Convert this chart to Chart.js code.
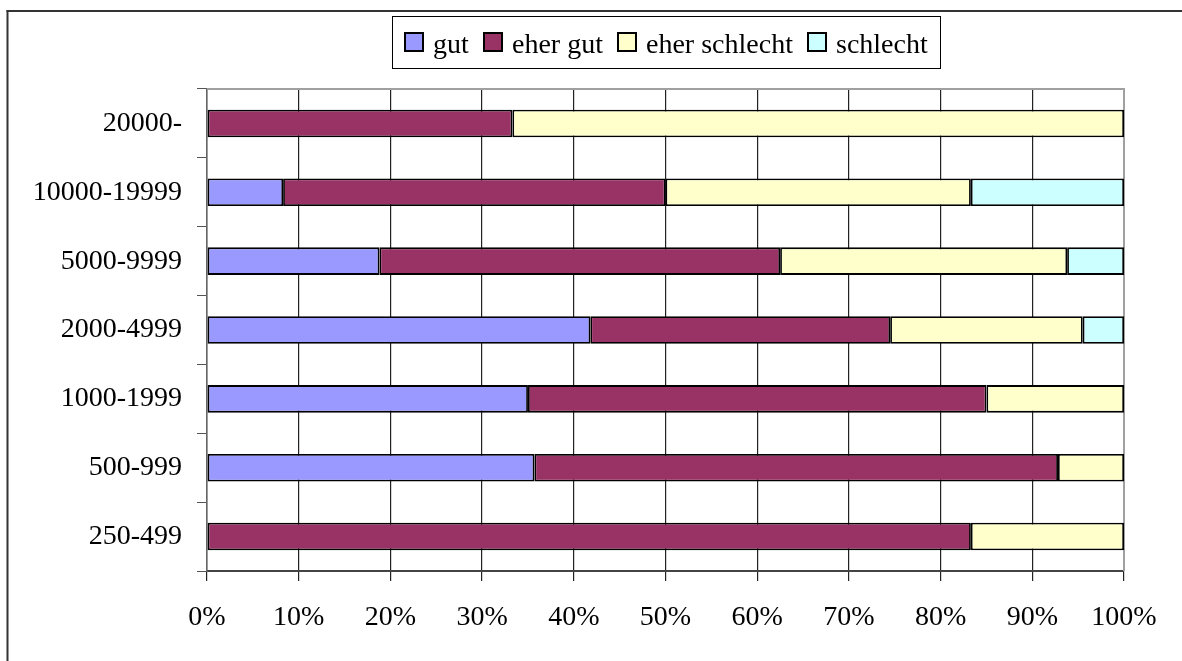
<!DOCTYPE html>
<html>
<head>
<meta charset="utf-8">
<script src="https://cdn.jsdelivr.net/npm/chart.js@4/dist/chart.umd.min.js"></script>
<style>
  html, body { margin: 0; padding: 0; background: #fff; }
  #wrap { width: 1182px; height: 661px; }
</style>
</head>
<body>
<div id="wrap"><canvas id="chart" width="1182" height="661"></canvas></div>
<script>
// Kategorien von oben nach unten
const categories = ["20000-", "10000-19999", "5000-9999", "2000-4999", "1000-1999", "500-999", "250-499"];

// Anteile in Prozent
const gut = [0, 8.3, 18.8, 41.8, 35.0, 35.7, 0];
const eherGut = [33.3, 41.7, 43.7, 32.7, 50.0, 57.1, 83.3];
const eherSchlecht = [66.7, 33.3, 31.3, 21.0, 15.0, 7.2, 16.7];
const schlecht = [0, 16.7, 6.2, 4.5, 0, 0, 0];

const seriesNames = ["gut", "eher gut", "eher schlecht", "schlecht"];
const seriesColors = ["#9999ff", "#993366", "#ffffcc", "#ccffff"];
const xTicks = [0, 10, 20, 30, 40, 50, 60, 70, 80, 90, 100];

const font = "Liberation Serif";

// Rahmen, Plotbereich-Rand und Legende mit Kasten
const decor = {
    id: "decor",
    beforeDraw(chart) {
        const ctx = chart.ctx;
        ctx.save();
        ctx.fillStyle = "#333";
        ctx.fillRect(6.5, 10, 2, 661);
        ctx.fillRect(6.5, 10, 1182, 2);
        ctx.restore();
    },
    beforeDatasetsDraw(chart) {
        const a = chart.chartArea;
        const ctx = chart.ctx;
        ctx.save();
        ctx.strokeStyle = "#a0a0a0";
        ctx.lineWidth = 2;
        ctx.beginPath();
        ctx.moveTo(a.left, a.top);
        ctx.lineTo(a.right, a.top);
        ctx.lineTo(a.right, a.bottom);
        ctx.stroke();
        ctx.restore();
    },
    afterDraw(chart) {
        const ctx = chart.ctx;
        const a = chart.chartArea;
        ctx.save();
        ctx.font = "28px '" + font + "'";
        const box = 20, gapText = 9, gapItem = 14, padL = 11, padR = 14;
        let widths = chart.data.datasets.map(ds => ctx.measureText(ds.label).width);
        let contentW = 0;
        widths.forEach((w, i) => {
            contentW += box + gapText + w + (i < widths.length - 1 ? gapItem : 0);
        });
        const boxW = Math.round(padL + contentW + padR);
        const left = Math.round((a.left + a.right) / 2 - boxW / 2) + 0.5;
        const top = 16.5, h = 52;
        ctx.fillStyle = "#fff";
        ctx.fillRect(left, top, boxW, h);
        ctx.strokeStyle = "#000";
        ctx.lineWidth = 1;
        ctx.strokeRect(left, top, boxW, h);

        let x = Math.round(left + padL);
        chart.data.datasets.forEach((ds, i) => {
            ctx.fillStyle = ds.backgroundColor;
            ctx.fillRect(x, 32, box, box);
            ctx.strokeStyle = "#000";
            ctx.lineWidth = 2;
            ctx.strokeRect(x + 1, 33, box - 2, box - 2);
            ctx.fillStyle = "#000";
            ctx.textBaseline = "alphabetic";
            ctx.textAlign = "left";
            ctx.fillText(ds.label, x + box + gapText, 53);
            x = Math.round(x + box + gapText + widths[i] + gapItem);
        });
        ctx.restore();
    }
};

const seriesData = [gut, eherGut, eherSchlecht, schlecht];

const ctx = document.getElementById("chart").getContext("2d");
const myChart = new Chart(ctx, {
    type: "bar",
    data: {
        labels: categories,
        datasets: seriesNames.map((name, i) => ({
            label: name,
            data: seriesData[i],
            backgroundColor: seriesColors[i],
            borderColor: "#000",
            borderWidth: 1.8,
            borderSkipped: false,
            barPercentage: 1,
            categoryPercentage: 0.4
        }))
    },
    options: {
        indexAxis: "y",
        responsive: false,
        animation: false,
        layout: { padding: { left: 10, top: 89, right: 58, bottom: 0 } },
        plugins: {
            legend: { display: false },
            tooltip: { enabled: false }
        },
        scales: {
            x: {
                stacked: true,
                min: 0,
                max: 100,
                afterBuildTicks: (s) => { s.ticks = xTicks.map(v => ({ value: v })); },
                afterFit: (s) => { s.height = 90; },
                ticks: {
                    color: "#000",
                    padding: 20,
                    maxRotation: 0,
                    font: { family: font, size: 28 },
                    callback: (v) => v + "%"
                },
                grid: { color: "#222", lineWidth: 1.2, tickLength: 10, tickColor: "#222" },
                border: { color: "#444", width: 2 }
            },
            y: {
                stacked: true,
                afterFit: (s) => { s.width = 197; },
                ticks: {
                    color: "#000",
                    padding: 15,
                    font: { family: font, size: 28 }
                },
                grid: { drawOnChartArea: false, tickLength: 10, color: "#555", offset: true },
                border: { color: "#666", width: 1.5 }
            }
        }
    },
    plugins: [decor]
});
</script>
</body>
</html>
